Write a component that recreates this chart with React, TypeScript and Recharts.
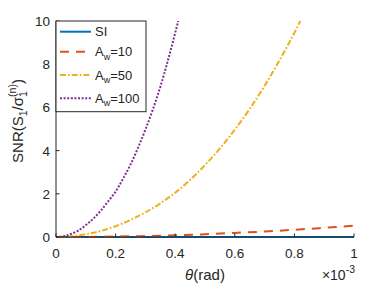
import React from 'react';
import { LineChart, Line, XAxis, YAxis, Legend } from 'recharts';

// ---- data (theta in units of 1e-3 rad) ----
const seriesNames = ['SI', 'A_w=10', 'A_w=50', 'A_w=100'];
const seriesColors = ['#0072BD', '#D95319', '#EDB120', '#7E2F8E'];
const seriesDash = ['', '9 7', '6 2 1.7 2', '2 1.6'];

const thetaSI = [0, 0.1, 0.2, 0.3, 0.4, 0.5, 0.6, 0.7, 0.8, 0.9, 1.0];
const snrSI = [0, 0, 0, 0, 0, 0, 0, 0, 0, 0, 0];

const thetaA10 = [0, 0.1, 0.2, 0.3, 0.4, 0.5, 0.6, 0.7, 0.8, 0.9, 1.0];
const snrA10 = [0, 0.005, 0.02, 0.045, 0.08, 0.13, 0.19, 0.255, 0.335, 0.425, 0.52];

const thetaA50 = [0, 0.05, 0.1, 0.15, 0.2, 0.25, 0.3, 0.35, 0.4, 0.45, 0.5, 0.55, 0.6, 0.65, 0.7, 0.75, 0.8, 0.82];
const snrA50 = [0, 0.03, 0.13, 0.28, 0.5, 0.79, 1.14, 1.56, 2.05, 2.64, 3.33, 4.1, 4.97, 5.93, 7.0, 8.18, 9.45, 10];

const thetaA100 = [0, 0.025, 0.05, 0.075, 0.1, 0.125, 0.15, 0.175, 0.2, 0.225, 0.25, 0.275, 0.3, 0.325, 0.35, 0.375, 0.4, 0.41];
const snrA100 = [0, 0.03, 0.14, 0.3, 0.55, 0.85, 1.22, 1.65, 2.1, 2.7, 3.35, 4.12, 4.97, 5.9, 6.95, 8.15, 9.45, 10];

const xTicks = [0, 0.2, 0.4, 0.6, 0.8, 1];
const xTickLabels = ['0', '0.2', '0.4', '0.6', '0.8', '1'];
const yTicks = [0, 2, 4, 6, 8, 10];
const yTickLabels = ['0', '2', '4', '6', '8', '10'];

const toRows = (xs: number[], ys: number[]) => xs.map((t, i) => ({ t, v: ys[i] }));
const seriesData = [
  toRows(thetaSI, snrSI),
  toRows(thetaA10, snrA10),
  toRows(thetaA50, snrA50),
  toRows(thetaA100, snrA100),
];

const FONT = '"Liberation Sans", Arial, Helvetica, sans-serif';
const AXIS = '#262626';

const XTick = (props: any) => {
  const { x, y, payload } = props;
  const idx = xTicks.indexOf(payload.value);
  return (
    <g>
      <line x1={x} x2={x} y1={y} y2={y - 3.5} stroke={AXIS} strokeWidth={1} />
      <text x={x} y={y + 21} textAnchor="middle" fontSize={13.5} fontFamily={FONT} fill={AXIS}>
        {idx >= 0 ? xTickLabels[idx] : payload.value}
      </text>
    </g>
  );
};

const YTick = (props: any) => {
  const { x, y, payload } = props;
  const idx = yTicks.indexOf(payload.value);
  return (
    <g>
      <line x1={x} x2={x + 3.5} y1={y} y2={y} stroke={AXIS} strokeWidth={1} />
      <text x={x - 6} y={y + 4.9} textAnchor="end" fontSize={13.5} fontFamily={FONT} fill={AXIS}>
        {idx >= 0 ? yTickLabels[idx] : payload.value}
      </text>
    </g>
  );
};

const YLabel = (props: any) => {
  const vb = props.viewBox || { x: 0, y: 21, width: 56, height: 216 };
  const cx = vb.x + 23;
  const cy = vb.y + vb.height / 2 - 8;
  return (
    <text
      x={cx}
      y={cy}
      transform={`rotate(-90 ${cx} ${cy})`}
      textAnchor="middle"
      fontSize={15}
      fontFamily={FONT}
      fill={AXIS}
    >
      SNR(S
      <tspan dy={4} fontSize={10.5}>1</tspan>
      <tspan dy={-4}>/σ</tspan>
      <tspan dy={4} fontSize={10.5}>1</tspan>
      <tspan dx={-5.8} dy={-11} fontSize={10.5}>(n)</tspan>
      <tspan dy={7}>)</tspan>
    </text>
  );
};

const XLabel = (props: any) => {
  const vb = props.viewBox || { x: 56, y: 237, width: 298, height: 47 };
  const cx = vb.x + vb.width / 2;
  const by = vb.y + 43;
  return (
    <g>
      <text x={cx} y={by} textAnchor="middle" fontSize={15} fontFamily={FONT} fill={AXIS}>
        <tspan fontStyle="italic">θ</tspan>(rad)
      </text>
      <text x={vb.x + vb.width + 1} y={by} textAnchor="end" fontSize={14} fontFamily={FONT} fill={AXIS}>
        ×10<tspan dy={-7} fontSize={10.5}>-3</tspan>
      </text>
    </g>
  );
};

const renderName = (name: string) => {
  if (name.startsWith('A_w')) {
    return (
      <>
        A<tspan dy={3.5} fontSize={9}>w</tspan>
        <tspan dy={-3.5}>{name.slice(3)}</tspan>
      </>
    );
  }
  return name;
};

const legendRowsY = [11.7, 31.7, 55, 78.3];

const LegendBox = () => (
  <svg width={93} height={94} style={{ display: 'block', overflow: 'visible' }}>
    <rect x={1} y={1} width={90} height={90.7} fill="#ffffff" stroke={AXIS} strokeWidth={1} />
    {seriesNames.map((n, i) => (
      <g key={n}>
        <line
          x1={5}
          x2={36}
          y1={legendRowsY[i]}
          y2={legendRowsY[i]}
          stroke={seriesColors[i]}
          strokeWidth={2}
          strokeDasharray={seriesDash[i] || undefined}
        />
        <text x={40} y={legendRowsY[i] + 4.5} fontSize={13} fontFamily={FONT} fill={AXIS}>
          {renderName(n)}
        </text>
      </g>
    ))}
  </svg>
);

export default function App() {
  return (
    <div style={{ position: 'absolute', left: 0, top: 0, width: 392, height: 284, background: '#ffffff' }}>
      <LineChart width={392} height={284} margin={{ top: 21, right: 38, bottom: 0, left: 0 }}>
        <XAxis
          type="number"
          dataKey="t"
          domain={[0, 1]}
          ticks={xTicks}
          height={47}
          tickSize={0}
          tickMargin={0}
          tickLine={false}
          axisLine={{ stroke: AXIS, strokeWidth: 1 }}
          tick={<XTick />}
          interval={0}
          label={{ content: <XLabel /> }}
        />
        <YAxis
          type="number"
          domain={[0, 10]}
          ticks={yTicks}
          width={56}
          tickSize={0}
          tickMargin={0}
          tickLine={false}
          axisLine={{ stroke: AXIS, strokeWidth: 1 }}
          tick={<YTick />}
          interval={0}
          label={{ content: <YLabel /> }}
        />
        <Legend
          layout="horizontal"
          verticalAlign="middle"
          align="center"
          wrapperStyle={{ position: 'absolute', left: 55, top: 20, width: 93, height: 94 }}
          content={() => <LegendBox />}
        />
        {seriesNames.map((n, i) => (
          <Line
            key={n}
            name={n}
            data={seriesData[i]}
            dataKey="v"
            type="monotone"
            stroke={seriesColors[i]}
            strokeWidth={2}
            strokeDasharray={seriesDash[i] || undefined}
            dot={false}
            activeDot={false}
            isAnimationActive={false}
          />
        ))}
      </LineChart>
    </div>
  );
}
